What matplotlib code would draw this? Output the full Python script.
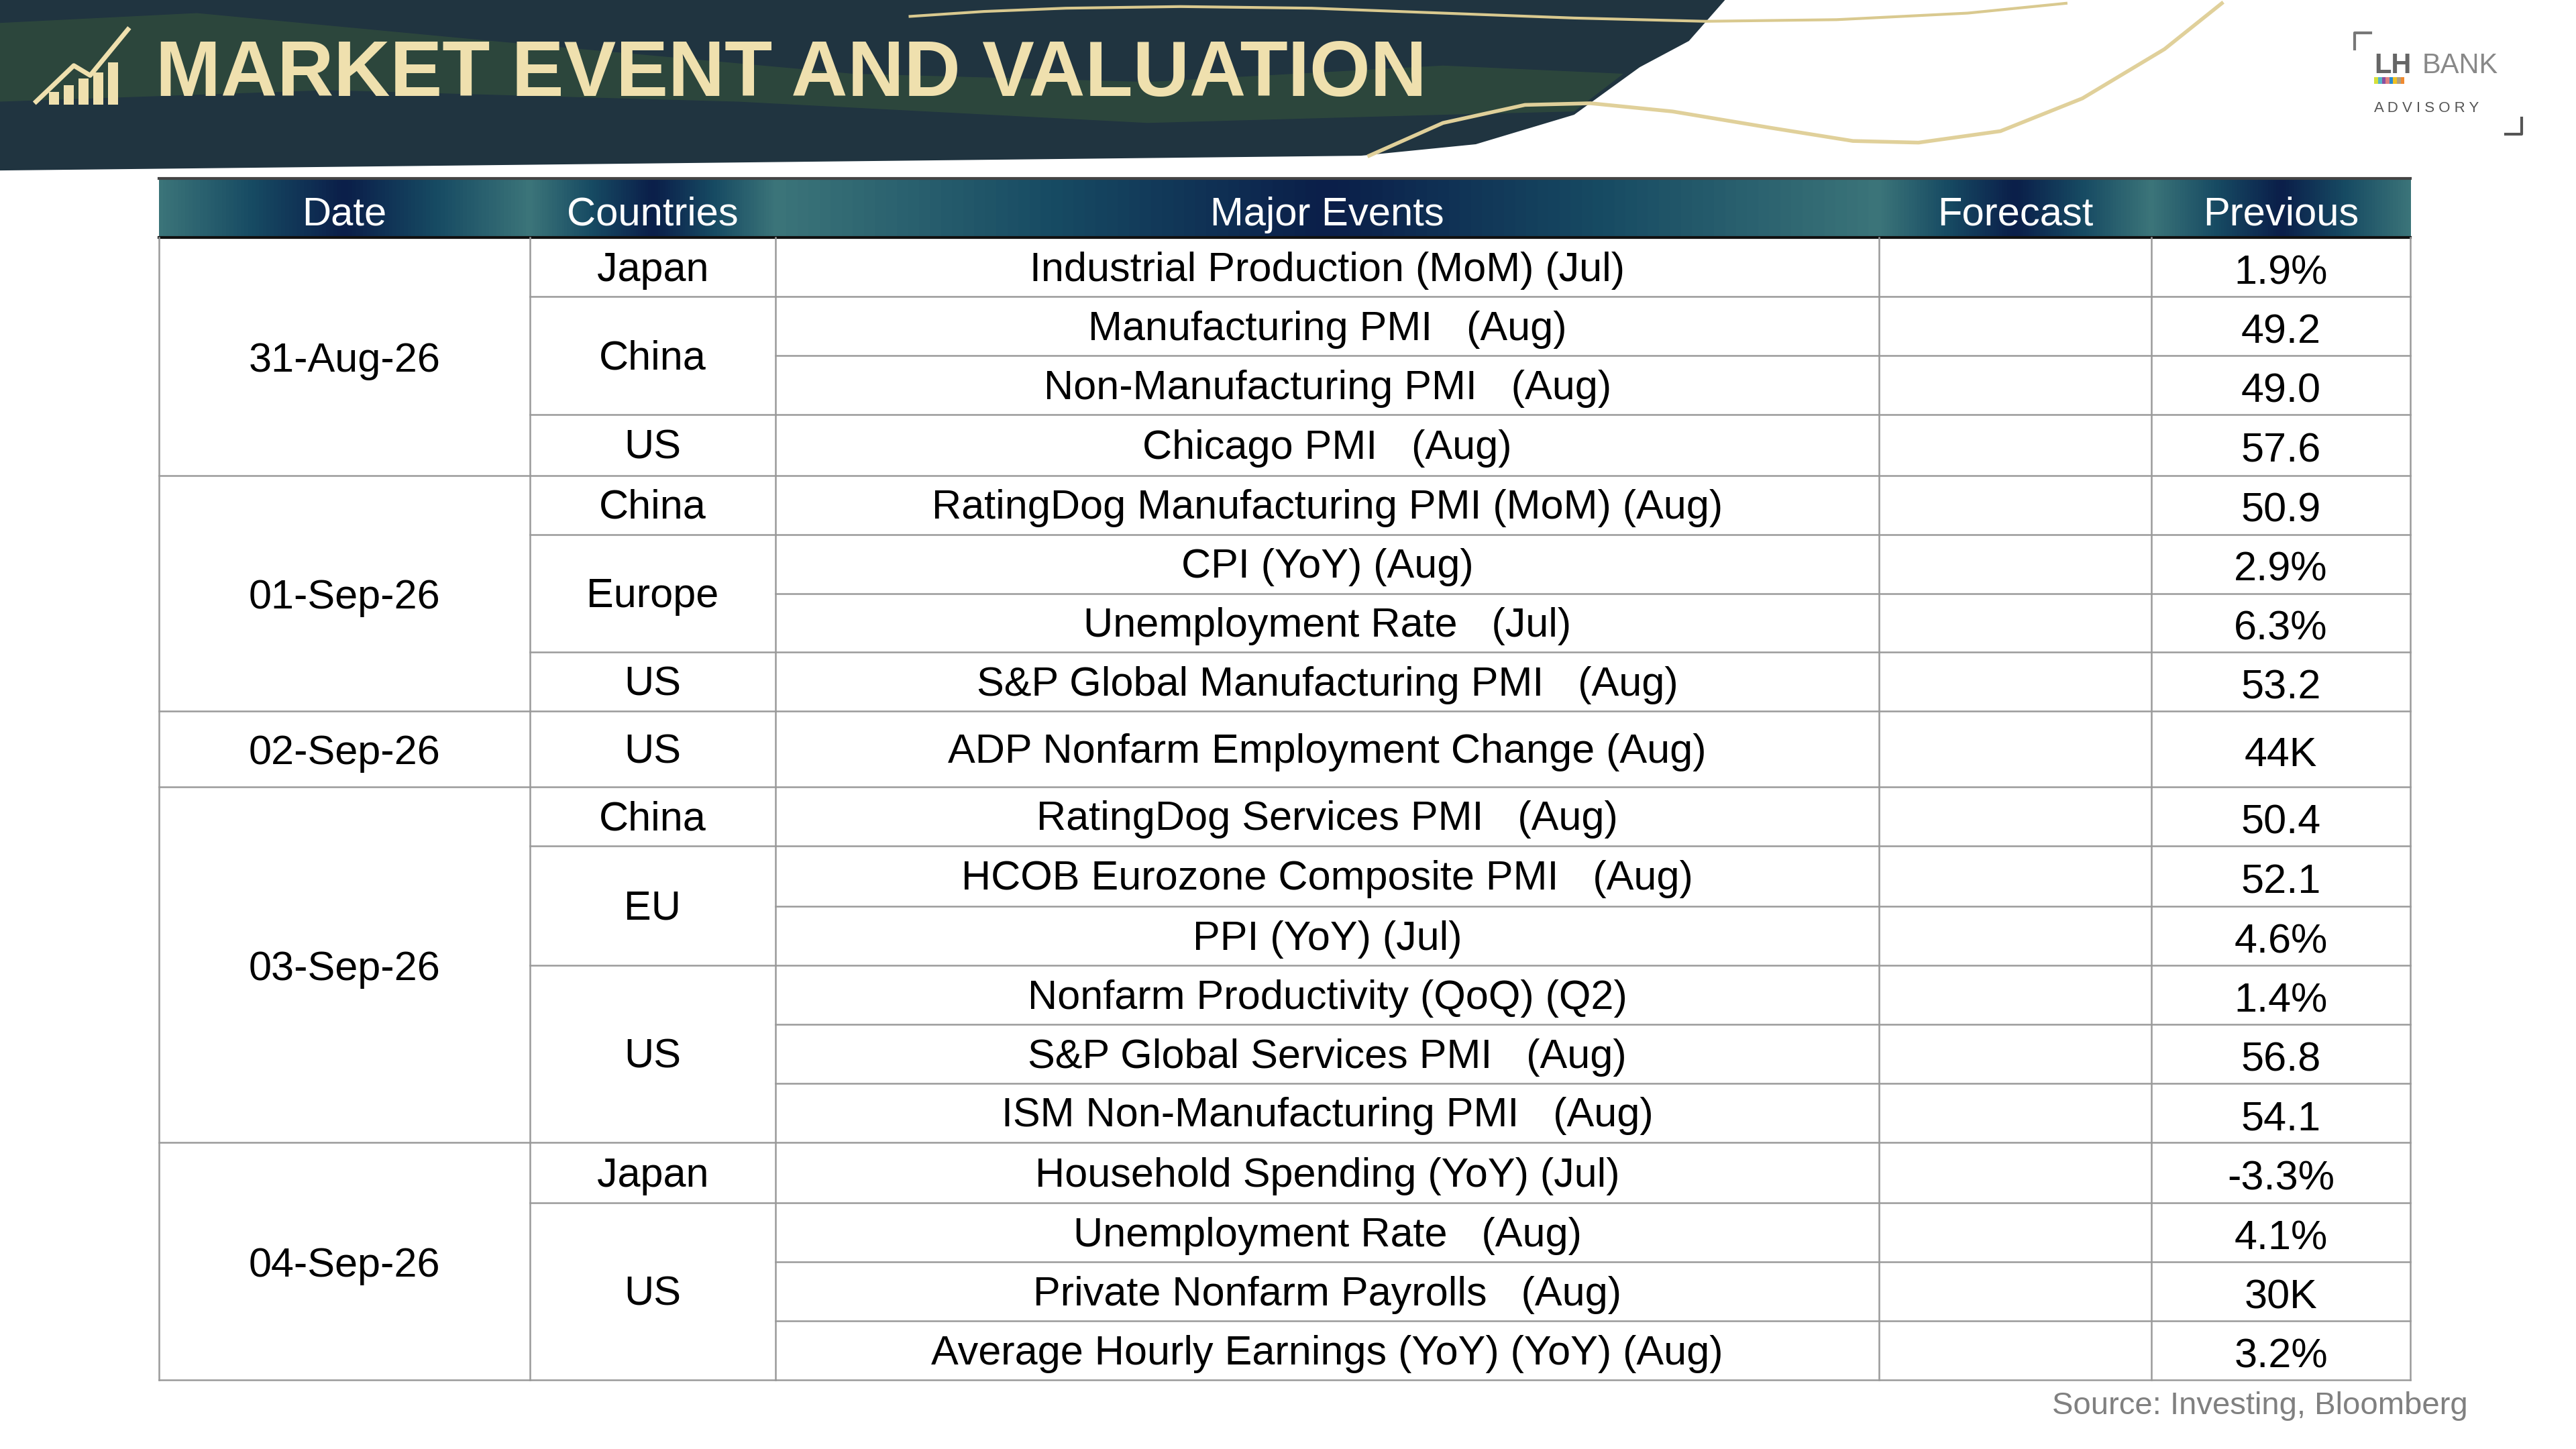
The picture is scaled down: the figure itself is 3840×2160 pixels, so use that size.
import matplotlib.pyplot as plt
import numpy as np
from matplotlib.patches import Polygon, Rectangle
from matplotlib.colors import LinearSegmentedColormap

WIDTH = 1571
HEIGHT = 884

headers = ["Date", "Countries", "Major Events", "Forecast", "Previous"]
dates = ["31-Aug-26", "01-Sep-26", "02-Sep-26", "03-Sep-26", "04-Sep-26"]
date_spans = [4, 4, 1, 6, 4]  # number of event rows per date
countries = ["Japan", "China", "US", "China", "Europe", "US", "US", "China", "EU", "US", "Japan", "US"]
country_spans = [1, 2, 1, 1, 2, 1, 1, 1, 2, 3, 1, 3]
events = [
    "Industrial Production (MoM) (Jul)",
    "Manufacturing PMI   (Aug)",
    "Non-Manufacturing PMI   (Aug)",
    "Chicago PMI   (Aug)",
    "RatingDog Manufacturing PMI (MoM) (Aug)",
    "CPI (YoY) (Aug)",
    "Unemployment Rate   (Jul)",
    "S&P Global Manufacturing PMI   (Aug)",
    "ADP Nonfarm Employment Change (Aug)",
    "RatingDog Services PMI   (Aug)",
    "HCOB Eurozone Composite PMI   (Aug)",
    "PPI (YoY) (Jul)",
    "Nonfarm Productivity (QoQ) (Q2)",
    "S&P Global Services PMI   (Aug)",
    "ISM Non-Manufacturing PMI   (Aug)",
    "Household Spending (YoY) (Jul)",
    "Unemployment Rate   (Aug)",
    "Private Nonfarm Payrolls   (Aug)",
    "Average Hourly Earnings (YoY) (YoY) (Aug)",
]
previous = ["1.9%", "49.2", "49.0", "57.6", "50.9", "2.9%", "6.3%", "53.2", "44K", "50.4",
            "52.1", "4.6%", "1.4%", "56.8", "54.1", "-3.3%", "4.1%", "30K", "3.2%"]
row_heights = [36, 36, 36, 37, 36, 36, 36, 36, 46, 36, 37, 36, 36, 36, 36, 37, 36, 36, 36]


def plot_event_table(file_path):
    plt.rcParams.update({'font.family': ['Liberation Sans', 'DejaVu Sans']})
    plt.figure(figsize=(38.4, 21.6), dpi=100)
    ax = plt.axes([0, 0, 1, 1])
    ax.set_xlim(0, WIDTH)
    ax.set_ylim(HEIGHT, 0)
    ax.axis('off')

    # Banner
    ax.add_patch(Polygon([[0, 0], [1052, 0], [1030, 25], [1000, 41], [960, 70], [900, 88], [830, 95], [0, 104]],
                         closed=True, facecolor="#203440", edgecolor="none", zorder=1))
    ax.add_patch(Polygon([[0, 14], [120, 8], [300, 25], [520, 45], [700, 50], [880, 40], [990, 45],
                          [960, 68], [880, 70], [700, 75], [450, 62], [200, 55], [0, 62]],
                         closed=True, facecolor="#2f4a3c", edgecolor="none", zorder=1, alpha=0.85))
    xs = np.array([555, 600, 650, 720, 800, 880, 960, 1040, 1120, 1200, 1260])
    ys = np.array([10, 7, 5, 4, 5, 8, 11, 13, 12, 8, 2])
    ax.plot(xs, ys, color="#d9c98f", linewidth=3, zorder=2)
    xs2 = np.array([835, 880, 930, 970, 1020, 1080, 1130, 1170, 1220, 1270, 1320, 1355])
    ys2 = np.array([95, 75, 64, 63, 68, 78, 86, 87, 80, 60, 30, 2])
    ax.plot(xs2, ys2, color="#e0d09a", linewidth=4, zorder=2)
    ax.text(95, 46, "MARKET EVENT AND VALUATION", fontsize=84, fontweight='bold',
            color="#efe0ae", va='center', ha='left', zorder=3)
    for i, h in enumerate([8, 12, 16, 20, 26]):
        ax.add_patch(Rectangle((30 + i * 9, 64 - h), 6, h, facecolor="#efe0ae", zorder=3))
    ax.plot([22, 45, 55, 78], [62, 40, 46, 18], color="#efe0ae", linewidth=5, zorder=3)

    # Logo
    ax.plot([1436, 1436, 1446], [30, 20, 20], color="#777777", linewidth=3)
    ax.plot([1528, 1538, 1538], [82, 82, 72], color="#555555", linewidth=3)
    ax.text(1448, 40, "LH", fontsize=30, color="#666666", va='center', fontweight='bold')
    ax.text(1477, 40, "BANK", fontsize=30, color="#888888", va='center')
    for i, c in enumerate(["#d6e03a", "#55b7c9", "#8b4fa0", "#e08080", "#2a8ad0", "#f0c020", "#b0a080", "#f08a30"]):
        ax.add_patch(Rectangle((1448 + i * 2.3, 47), 2.3, 4, facecolor=c, edgecolor="none"))
    ax.text(1448, 66, "A D V I S O R Y", fontsize=16, color="#555555", va='center')

    # Table geometry
    col_x = [97, 323, 473, 1146, 1312, 1470]
    head_top, head_bot = 109, 145
    row_y = [head_bot]
    for h in row_heights:
        row_y.append(row_y[-1] + h)

    grad = np.concatenate([np.linspace(0, 1, 50), np.linspace(1, 0, 50)]).reshape(1, -1)
    cmap = LinearSegmentedColormap.from_list("hdr", ["#3b7479", "#174b63", "#0b1f4a"])
    for j, label in enumerate(headers):
        ax.imshow(grad, cmap=cmap, aspect='auto', extent=[col_x[j], col_x[j + 1], head_bot, head_top], zorder=2)
        ax.text((col_x[j] + col_x[j + 1]) / 2, (head_top + head_bot) / 2 + 4, label, fontsize=43,
                color="white", ha='center', va='center', zorder=3)
    ax.plot([col_x[0], col_x[-1]], [head_top, head_top], color="#444444", linewidth=3, zorder=3)
    ax.plot([col_x[0], col_x[-1]], [head_bot, head_bot], color="#111111", linewidth=3, zorder=3)

    line_kw = dict(color="#9a9a9a", linewidth=1.8, zorder=3)
    # Events, forecast and previous columns
    for i, (ev, pv) in enumerate(zip(events, previous)):
        yc = (row_y[i] + row_y[i + 1]) / 2 + 2
        ax.text((col_x[2] + col_x[3]) / 2, yc, ev, fontsize=44, ha='center', va='center', color="black")
        ax.text((col_x[4] + col_x[5]) / 2, yc + 2, pv, fontsize=44, ha='center', va='center', color="black")
        ax.plot([col_x[2], col_x[5]], [row_y[i + 1], row_y[i + 1]], **line_kw)

    # Countries
    k = 0
    for c, span in zip(countries, country_spans):
        y0, y1 = row_y[k], row_y[k + span]
        ax.text((col_x[1] + col_x[2]) / 2, (y0 + y1) / 2 + 2, c, fontsize=44, ha='center', va='center')
        ax.plot([col_x[1], col_x[2]], [y1, y1], **line_kw)
        k += span

    # Dates
    k = 0
    for d, span in zip(dates, date_spans):
        y0, y1 = row_y[k], row_y[k + span]
        ax.text((col_x[0] + col_x[1]) / 2, (y0 + y1) / 2 + 3, d, fontsize=44, ha='center', va='center')
        ax.plot([col_x[0], col_x[1]], [y1, y1], **line_kw)
        k += span

    for x in col_x:
        ax.plot([x, x], [head_bot, row_y[-1]], **line_kw)

    ax.text(1505, 858, "Source: Investing, Bloomberg", fontsize=34, color="#808080", ha='right', va='center')

    plt.savefig(file_path, dpi=100, format='png')
    plt.close()


plot_event_table("out.png")
